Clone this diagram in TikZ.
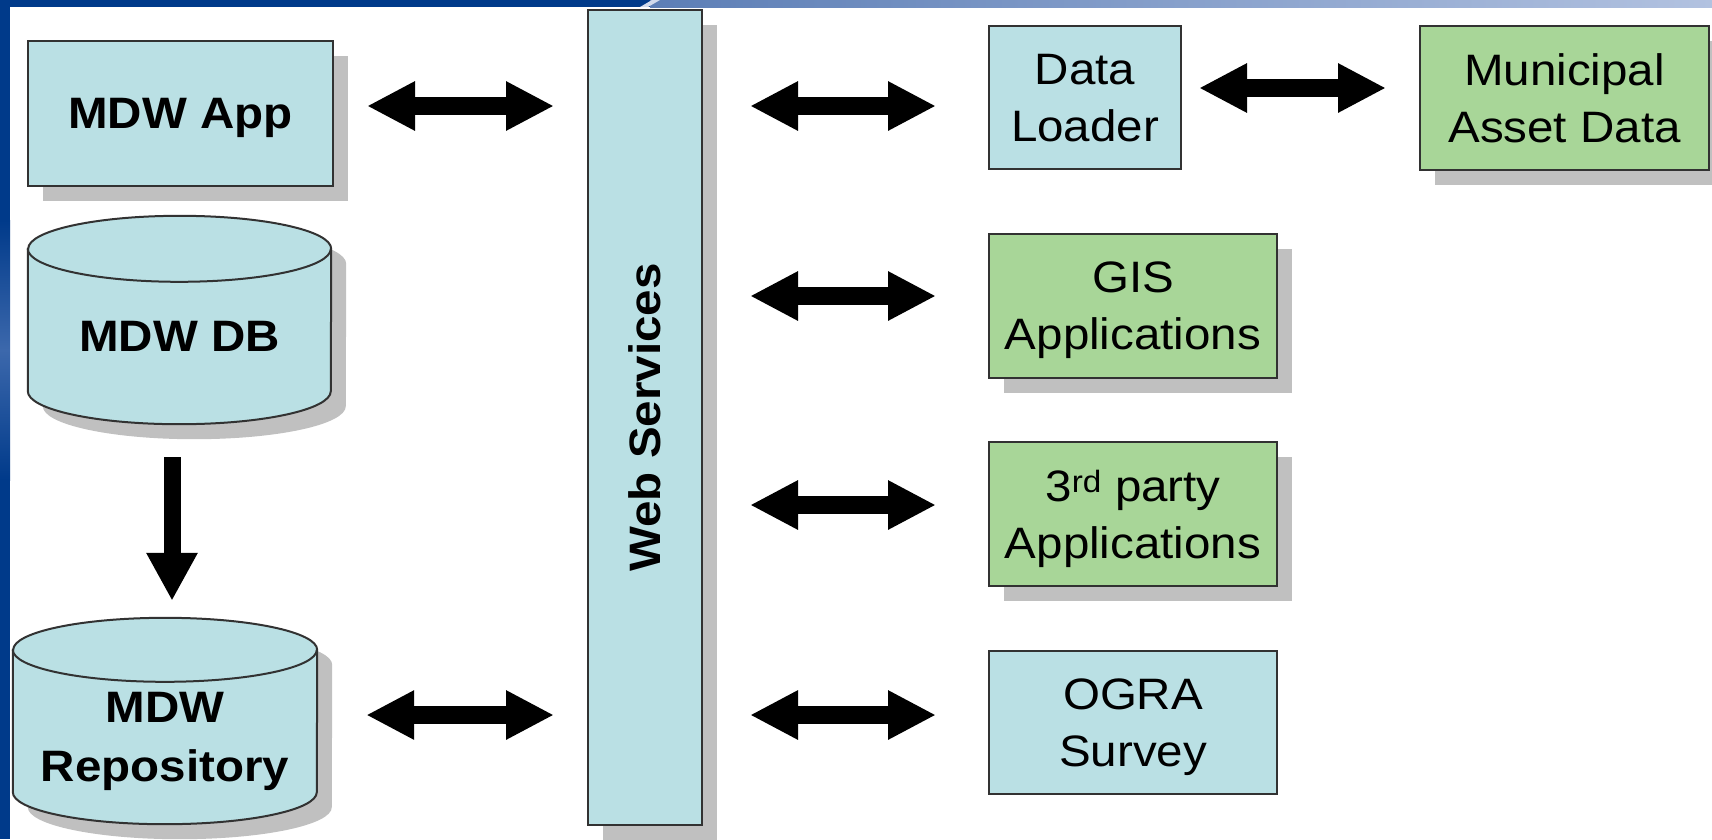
\documentclass[tikz,border=0pt]{standalone}
\usepackage{fontspec}
\setmainfont[FakeStretch=1.08]{Liberation Sans}
\usetikzlibrary{arrows.meta,shadows,calc}
\definecolor{boxblue}{RGB}{186,224,228}
\definecolor{boxgreen}{RGB}{168,214,152}
\definecolor{shgray}{RGB}{192,192,192}
\definecolor{edgegray}{RGB}{50,50,50}
\definecolor{darkband}{RGB}{0,58,138}
\definecolor{bandmid}{RGB}{92,126,182}
\definecolor{bandlight}{RGB}{178,194,224}
\definecolor{bandstreak}{RGB}{60,104,172}
\newcommand\cylpath[5]{%
  \path[#5] ($(#1.north west)+(#4)+(0,#3)$) -- ($(#1.south west)+(#4)+(0,-#3)$)
    arc[start angle=180,end angle=360,x radius=#2pt,y radius=#3pt]
    -- ($(#1.north east)+(#4)+(0,#3)$)
    arc[start angle=0,end angle=180,x radius=#2pt,y radius=#3pt] -- cycle;}
\newcommand\cyltop[3]{%
  \draw[draw=edgegray,line width=2pt] ($(#1.north west)+(0,#3)$)
    arc[start angle=180,end angle=360,x radius=#2pt,y radius=#3pt];}
\begin{document}
\begin{tikzpicture}[x=1pt,y=-1pt,
  box/.style={draw=edgegray, line width=2pt, inner sep=0pt, align=center,
    font=\fontsize{44}{57}\selectfont, text depth=0pt},
  bluebox/.style={box, fill=boxblue},
  greenbox/.style={box, fill=boxgreen},
  shadowed/.style={drop shadow={shadow xshift=15pt, shadow yshift=-15pt, fill=shgray, opacity=1}},
  boldfont/.style={font=\bfseries\fontsize{44}{59}\selectfont},
  boldtext/.style={boldfont, align=center, inner sep=0pt},
  cylframe/.style={inner sep=0pt, draw=none},
  biarrow/.style={draw=black, line width=18pt, {Triangle[width=46pt,length=48pt]}-{Triangle[width=46pt,length=48pt]}},
  downarrow/.style={draw=black, line width=17pt, -{Triangle[width=48pt,length=48pt]}},
]
\useasboundingbox (0,0) rectangle (1712,839);
\fill[white] (0,0) rectangle (1712,839);
% bands
\fill[darkband] (0,0) rectangle (10,839);
\shade[top color=darkband, bottom color=darkband, middle color=bandstreak] (0,220) rectangle (10,480);
\fill[darkband] (0,0) rectangle (650,7);
\shade[left color=bandmid, right color=bandlight] (650,0) rectangle (1712,7);
\fill[bandlight!60!white] (640,7) -- (652,0) -- (660,0) -- (648,7) -- cycle;

% left column
\node[bluebox, boldfont, shadowed, minimum width=305pt, minimum height=145pt] (app) at (180.5,113.5) {MDW App};

\node[cylframe, minimum width=303pt, minimum height=208pt] (db) at (179.5,320) {};
\cylpath{db}{151.5}{33}{15,15}{fill=shgray}
\cylpath{db}{151.5}{33}{0,0}{fill=boxblue, draw=edgegray, line width=2pt}
\cyltop{db}{151.5}{33}
\node[boldtext] (dbtext) at ([yshift=-16pt]db.center) {MDW DB};

\node[cylframe, minimum width=304pt, minimum height=206pt] (repo) at (165,721) {};
\cylpath{repo}{152}{32}{15,15}{fill=shgray}
\cylpath{repo}{152}{32}{0,0}{fill=boxblue, draw=edgegray, line width=2pt}
\cyltop{repo}{152}{32}
\node[boldtext] (repotext) at ([yshift=-20pt]repo.center) {MDW\\Repository};

% web services
\node[bluebox, shadowed, minimum width=114pt, minimum height=815pt] (ws) at (645,417.5) {};
\node[boldtext, rotate=90] (wstext) at (ws.center) {Web Services};

% right column
\node[bluebox, minimum width=192pt, minimum height=143pt] (dl) at (1085,97.5) {Data\\Loader};
\node[greenbox, shadowed, minimum width=289pt, minimum height=144pt] (mun) at (1564.5,98) {Municipal\\Asset Data};
\node[greenbox, shadowed, minimum width=288pt, minimum height=144pt] (gis) at (1133,306) {GIS\\Applications};
\node[greenbox, shadowed, minimum width=288pt, minimum height=144pt] (third) at (1133,514) {3\textsuperscript{rd} party\\Applications};
\node[bluebox, minimum width=288pt, minimum height=143pt] (ogra) at (1133,722.5) {OGRA\\Survey};

% arrow rows
\coordinate (r0) at (0,88);
\coordinate (r1) at (0,106);
\coordinate (r2) at (0,296);
\coordinate (r3) at (0,505);
\coordinate (r4) at (0,715);
\coordinate (cdx) at (172,0);

\draw[biarrow, shorten <=33pt, shorten >=33pt] (app.east |- r1) -- (ws.west |- r1);
\draw[biarrow, shorten <=49pt, shorten >=33pt] (repo.east |- r4) -- (ws.west |- r4);
\draw[downarrow, shorten <=33pt, shorten >=17pt] (db.south -| cdx) -- (repo.north -| cdx);

\draw[biarrow, shorten <=47pt, shorten >=52pt] (ws.east |- r1) -- (dl.west |- r1);
\draw[biarrow, shorten <=47pt, shorten >=52pt] (ws.east |- r2) -- (gis.west |- r2);
\draw[biarrow, shorten <=47pt, shorten >=52pt] (ws.east |- r3) -- (third.west |- r3);
\draw[biarrow, shorten <=47pt, shorten >=52pt] (ws.east |- r4) -- (ogra.west |- r4);
\draw[biarrow, shorten <=17pt, shorten >=33pt] (dl.east |- r0) -- (mun.west |- r0);
\end{tikzpicture}
\end{document}
